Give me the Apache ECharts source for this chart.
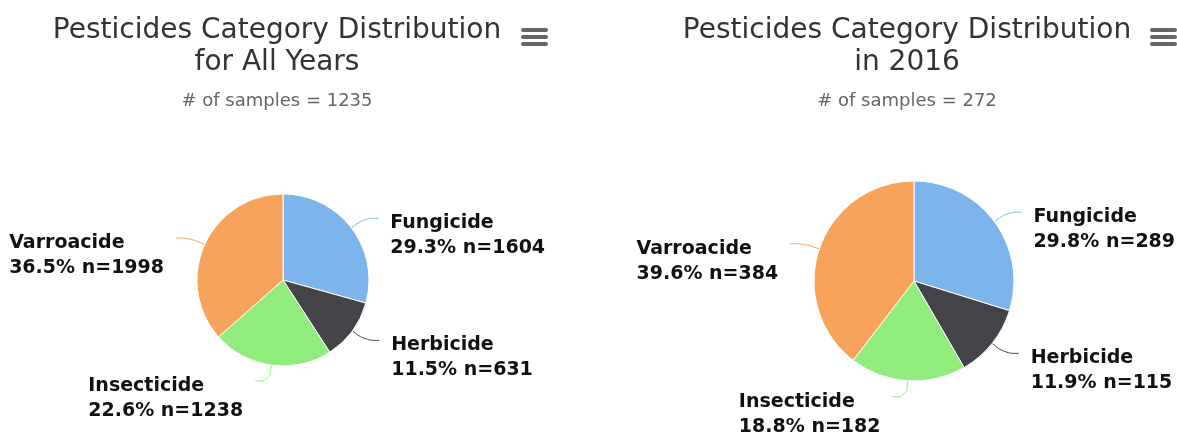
<!DOCTYPE html>
<html>
<head>
<meta charset="utf-8">
<script src="https://cdn.jsdelivr.net/npm/echarts@6/dist/echarts.min.js"></script>
<style>
  html, body { margin: 0; padding: 0; background: #fff; }
  #chart { width: 1177px; height: 435px; }
</style>
</head>
<body>
<div id="chart"></div>
<script>
var categories = ['Fungicide', 'Herbicide', 'Insecticide', 'Varroacide'];
var allYearsCounts = [1604, 631, 1238, 1998];
var year2016Counts = [289, 115, 182, 384];
var titles = ['Pesticides Category Distribution\nfor All Years', 'Pesticides Category Distribution\nin 2016'];
var subtitles = ['# of samples = 1235', '# of samples = 272'];
var colors = ['#7cb5ec', '#434348', '#90ed7d', '#f7a35c'];

var fontFamily = '"DejaVu Sans", "Lucida Grande", sans-serif';

function toData(counts) {
    var list = [];
    for (var i = 0; i < categories.length; i++) {
        list.push({ name: categories[i], value: counts[i] });
    }
    return list;
}

function sum(arr) {
    var s = 0;
    for (var i = 0; i < arr.length; i++) s += arr[i];
    return s;
}

function pieSeries(counts, center, radius) {
    var total = sum(counts);
    return {
        type: 'pie',
        center: center,
        radius: radius,
        startAngle: 90,
        clockwise: true,
        avoidLabelOverlap: false,
        itemStyle: { borderColor: '#fff', borderWidth: 1 },
        label: {
            show: true,
            position: 'outside',
            distanceToLabelLine: 12,
            // push the box down so the line points at the first row, like the original
            padding: [35, 0, 0, 0],
            formatter: function (p) {
                var pct = (p.value / total * 100).toFixed(1);
                return '{a|' + p.name + '}\n{a|' + pct + '% n=' + p.value + '}';
            },
            rich: {
                a: {
                    align: 'left',
                    fontFamily: fontFamily,
                    fontSize: 19,
                    fontWeight: 'bold',
                    color: '#111',
                    lineHeight: 25
                }
            }
        },
        labelLine: {
            show: true,
            length: 16,
            length2: 14,
            smooth: 0.4,
            lineStyle: { width: 1 }
        },
        emphasis: { disabled: true },
        data: toData(counts)
    };
}

function menuIcon(x) {
    var bars = [];
    for (var i = 0; i < 3; i++) {
        bars.push({
            type: 'rect',
            shape: { x: 0, y: i * 7, width: 27, height: 4, r: 2 },
            style: { fill: '#666' }
        });
    }
    return { type: 'group', left: x, top: 28, children: bars };
}

function titleOption(i, left) {
    return {
        text: titles[i],
        subtext: subtitles[i],
        left: left,
        top: 10,
        textAlign: 'center',
        itemGap: 12,
        textStyle: {
            fontFamily: fontFamily,
            fontSize: 28,
            fontWeight: 'normal',
            color: '#333',
            lineHeight: 32
        },
        subtextStyle: {
            fontFamily: fontFamily,
            fontSize: 18,
            color: '#666',
            lineHeight: 20
        }
    };
}

var chart = echarts.init(document.getElementById('chart'));
chart.setOption({
    animation: false,
    color: colors,
    title: [titleOption(0, 272), titleOption(1, 902)],
    graphic: [menuIcon(521), menuIcon(1150)],
    series: [
        pieSeries(allYearsCounts, [283, 280], 86),
        pieSeries(year2016Counts, [914, 281], 100)
    ]
});
</script>
</body>
</html>
